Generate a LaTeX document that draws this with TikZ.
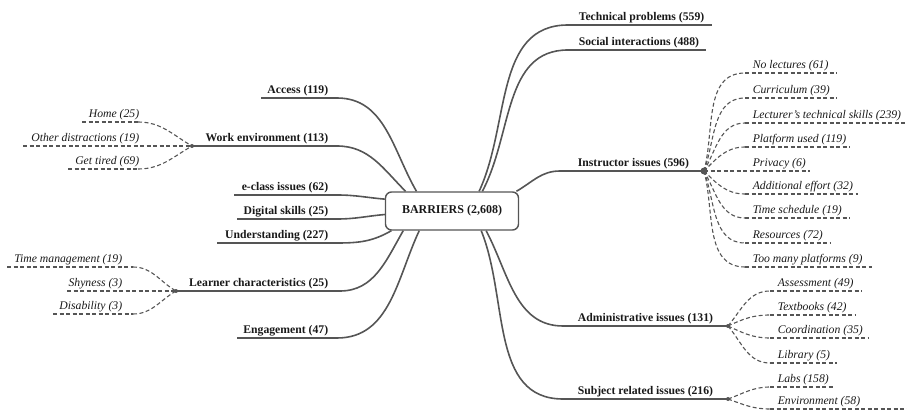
\documentclass[tikz,border=0pt]{standalone}
\usepackage{fontspec}
\setmainfont{Liberation Serif}
\usetikzlibrary{arrows}
\definecolor{lgrey}{RGB}{85,85,85}

\begin{document}
\begin{tikzpicture}[x=1pt,y=1pt,line width=1.6pt,draw=lgrey,text=black!90]
  \tikzstyle{every node}=[inner sep=0pt]
  \tikzstyle{big}=[font=\bfseries\fontsize{11.7}{14}\selectfont]
  \tikzstyle{small}=[font=\itshape\fontsize{11.7}{14}\selectfont]
  \tikzstyle{twig}=[line width=1.1pt,dash pattern=on 4pt off 2.5pt]
  \tikzstyle{knot}=[circle,fill=lgrey,minimum size=4pt]
  \useasboundingbox (0,0) rectangle (907,410);

  \node[draw,rounded corners=6pt,line width=1.4pt,minimum width=133pt,
        minimum height=38pt,font=\bfseries\fontsize{12}{14}\selectfont]
        (B) at (452,199) {BARRIERS (2,608)};

  % left side
  \node[knot] (WJ) at (192,264) {};
  \node[knot] (LJ) at (176,119) {};
  \coordinate (Acc-o) at (261,312); \coordinate (Acc) at (337,312);
  \coordinate (Wrk) at (337,264);
  \coordinate (Ecl-o) at (234,215); \coordinate (Ecl) at (337,215);
  \coordinate (Dig-o) at (237,191); \coordinate (Dig) at (337,191);
  \coordinate (Und-o) at (217,167); \coordinate (Und) at (337,167);
  \coordinate (Lrn) at (340,119);
  \coordinate (Eng-o) at (237,72);  \coordinate (Eng) at (337,72);

  \node[big,anchor=base east] (tAcc) at (329,316.5) {Access (119)};
  \node[big,anchor=base east] (tWrk) at (329,268.5) {Work environment (113)};
  \node[big,anchor=base east] (tEcl) at (329,219.5) {e-class issues (62)};
  \node[big,anchor=base east] (tDig) at (329,195.5) {Digital skills (25)};
  \node[big,anchor=base east] (tUnd) at (329,171.5) {Understanding (227)};
  \node[big,anchor=base east] (tLrn) at (329,123.5) {Learner characteristics (25)};
  \node[big,anchor=base east] (tEng) at (329,76.5)  {Engagement (47)};

  \path (Acc-o) edge (Acc)
        (Acc)   edge[out=0,in=120] (B.151)
        (WJ.center) edge (Wrk)
        (Wrk)   edge[out=0,in=135] (B.157)
        (Ecl-o) edge (Ecl)
        (Ecl)   edge[out=0,in=175] (B.170)
        (Dig-o) edge (Dig)
        (Dig)   edge[out=0,in=185] (B.183)
        (Und-o) edge (Und)
        (Und)   edge[out=0,in=210] (B.198)
        (LJ.center) edge (Lrn)
        (Lrn)   edge[out=0,in=240] (B.202)
        (Eng-o) edge (Eng)
        (Eng)   edge[out=0,in=245] (B.211);

  % left twigs
  \coordinate (Hom-o) at (82,288);  \coordinate (Hom) at (138,288);
  \coordinate (Oth-o) at (23,264);
  \coordinate (Tir-o) at (68,241);  \coordinate (Tir) at (138,241);
  \coordinate (Tim-o) at (7,143);   \coordinate (Tim) at (133,143);
  \coordinate (Shy-o) at (67,119);
  \coordinate (Dis-o) at (53,96);   \coordinate (Dis) at (133,96);

  \node[small,anchor=base east] (tHom) at (140,292.5) {Home (25)};
  \node[small,anchor=base east] (tOth) at (140,268.5) {Other distractions (19)};
  \node[small,anchor=base east] (tTir) at (140,245.5) {Get tired (69)};
  \node[small,anchor=base east] (tTim) at (123,147.5) {Time management (19)};
  \node[small,anchor=base east] (tShy) at (123,123.5) {Shyness (3)};
  \node[small,anchor=base east] (tDis) at (123,100.5) {Disability (3)};

  \path[twig] (Hom-o) edge (Hom)
        (Hom) edge[out=0,in=150] (WJ.center)
        (Oth-o) edge (WJ.center)
        (Tir-o) edge (Tir)
        (Tir) edge[out=0,in=210] (WJ.center)
        (Tim-o) edge (Tim)
        (Tim) edge[out=0,in=150] (LJ.center)
        (Shy-o) edge (LJ.center)
        (Dis-o) edge (Dis)
        (Dis) edge[out=0,in=210] (LJ.center);

  % right side
  \node[knot,minimum height=7pt] (IJ) at (704,239) {};
  \node[knot] (AJ) at (728,84) {};
  \node[knot] (SJ) at (728,11) {};
  \coordinate (Tec) at (568,385); \coordinate (Tec-o) at (712,385);
  \coordinate (Soc) at (568,360); \coordinate (Soc-o) at (706,360);
  \coordinate (Ins) at (560,239);
  \coordinate (Adm) at (563,84);
  \coordinate (Sub) at (563,11);

  \node[big,anchor=base west] (tTec) at (578,389.5) {Technical problems (559)};
  \node[big,anchor=base west] (tSoc) at (578,364.5) {Social interactions (488)};
  \node[big,anchor=base west] (tIns) at (577,243.5) {Instructor issues (596)};
  \node[big,anchor=base west] (tAdm) at (577,88.5)  {Administrative issues (131)};
  \node[big,anchor=base west] (tSub) at (577,15.5)  {Subject related issues (216)};

  \path (Tec) edge (Tec-o)
        (Tec) edge[out=180,in=65] (B.36)
        (Soc) edge (Soc-o)
        (Soc) edge[out=180,in=62] (B.33)
        (Ins) edge (IJ.center)
        (Ins) edge[out=180,in=30] (B.17)
        (Adm) edge (AJ.center)
        (Adm) edge[out=180,in=-62] (B.330)
        (Sub) edge (SJ.center)
        (Sub) edge[out=180,in=-68] (B.326);

  % right twigs, instructor
  \coordinate (Nol) at (745,337); \coordinate (Nol-o) at (837,337);
  \coordinate (Cur) at (745,312); \coordinate (Cur-o) at (837,312);
  \coordinate (Lec) at (745,287); \coordinate (Lec-o) at (907,287);
  \coordinate (Pla) at (745,263); \coordinate (Pla-o) at (850,263);
  \coordinate (Pri-o) at (810,239);
  \coordinate (Add) at (745,216); \coordinate (Add-o) at (858,216);
  \coordinate (Tsc) at (745,192); \coordinate (Tsc-o) at (850,192);
  \coordinate (Res) at (745,167); \coordinate (Res-o) at (830,167);
  \coordinate (Too) at (745,143); \coordinate (Too-o) at (872,143);

  \node[small,anchor=base west] (tNol) at (752,341.5) {No lectures (61)};
  \node[small,anchor=base west] (tCur) at (752,316.5) {Curriculum (39)};
  \node[small,anchor=base west] (tLec) at (752,291.5) {Lecturer's technical skills (239)};
  \node[small,anchor=base west] (tPla) at (752,267.5) {Platform used (119)};
  \node[small,anchor=base west] (tPri) at (752,243.5) {Privacy (6)};
  \node[small,anchor=base west] (tAdd) at (752,220.5) {Additional effort (32)};
  \node[small,anchor=base west] (tTsc) at (752,196.5) {Time schedule (19)};
  \node[small,anchor=base west] (tRes) at (752,171.5) {Resources (72)};
  \node[small,anchor=base west] (tToo) at (752,147.5) {Too many platforms (9)};

  \path[twig] (IJ.center) edge[out=75,in=180] (Nol)
        (Nol) edge (Nol-o)
        (IJ.center) edge[out=70,in=180] (Cur)
        (Cur) edge (Cur-o)
        (IJ.center) edge[out=60,in=180] (Lec)
        (Lec) edge (Lec-o)
        (IJ.center) edge[out=45,in=180] (Pla)
        (Pla) edge (Pla-o)
        (IJ.center) edge (Pri-o)
        (IJ.center) edge[out=-45,in=180] (Add)
        (Add) edge (Add-o)
        (IJ.center) edge[out=-60,in=180] (Tsc)
        (Tsc) edge (Tsc-o)
        (IJ.center) edge[out=-70,in=180] (Res)
        (Res) edge (Res-o)
        (IJ.center) edge[out=-75,in=180] (Too)
        (Too) edge (Too-o);

  % right twigs, administrative and subject
  \coordinate (Ass) at (770,119); \coordinate (Ass-o) at (862,119);
  \coordinate (Txt) at (770,95);  \coordinate (Txt-o) at (855,95);
  \coordinate (Coo) at (770,72);  \coordinate (Coo-o) at (868,72);
  \coordinate (Lib) at (770,47);  \coordinate (Lib-o) at (837,47);
  \coordinate (Lab) at (770,23);  \coordinate (Lab-o) at (833,23);
  \coordinate (Env) at (770,1);   \coordinate (Env-o) at (907,1);

  \node[small,anchor=base west] (tAss) at (777,123.5) {Assessment (49)};
  \node[small,anchor=base west] (tTxt) at (777,99.5)  {Textbooks (42)};
  \node[small,anchor=base west] (tCoo) at (777,76.5)  {Coordination (35)};
  \node[small,anchor=base west] (tLib) at (777,51.5)  {Library (5)};
  \node[small,anchor=base west] (tLab) at (777,27.5)  {Labs (158)};
  \node[small,anchor=base west] (tEnv) at (777,5.5)   {Environment (58)};

  \path[twig] (AJ.center) edge[out=50,in=180] (Ass)
        (Ass) edge (Ass-o)
        (AJ.center) edge[out=25,in=180] (Txt)
        (Txt) edge (Txt-o)
        (AJ.center) edge[out=-25,in=180] (Coo)
        (Coo) edge (Coo-o)
        (AJ.center) edge[out=-50,in=180] (Lib)
        (Lib) edge (Lib-o)
        (SJ.center) edge[out=20,in=180] (Lab)
        (Lab) edge (Lab-o)
        (SJ.center) edge[out=-20,in=180] (Env)
        (Env) edge (Env-o);
\end{tikzpicture}
\end{document}
